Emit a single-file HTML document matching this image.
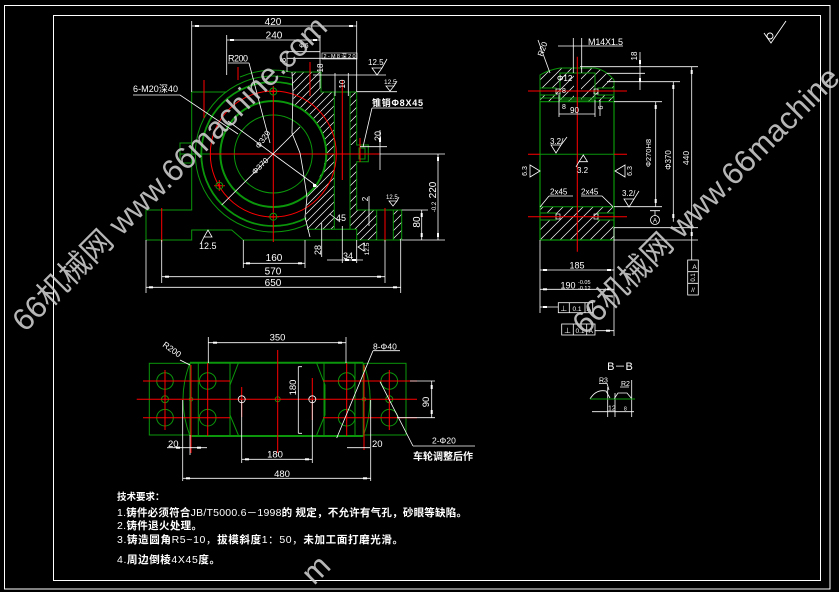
<!DOCTYPE html>
<html><head><meta charset="utf-8"><style>
html,body{margin:0;padding:0;background:#000;width:839px;height:592px;overflow:hidden;}
svg{display:block;overflow:hidden}
text{font-family:"Liberation Sans","Noto Sans CJK SC",sans-serif;fill:#fff}
</style></head><body>
<svg width="839" height="592" viewBox="0 0 839 592" xmlns="http://www.w3.org/2000/svg">
<defs>
<pattern id="h" patternUnits="userSpaceOnUse" width="8" height="8">
<path d="M0,8 L8,0 M-1,1 L1,-1 M7,9 L9,7" stroke="#fff" stroke-width="0.7"/>
</pattern>
<pattern id="h2" patternUnits="userSpaceOnUse" width="10" height="10">
<path d="M0,10 L10,0 M-1,1 L1,-1 M9,11 L11,9" stroke="#fff" stroke-width="0.7"/>
</pattern>
<clipPath id="cl"><rect x="0" y="0" width="334" height="600"/></clipPath>
<clipPath id="page"><rect x="0" y="0" width="839" height="592"/></clipPath>
</defs>
<rect width="839" height="592" fill="#000"/>

<!-- frames -->
<g fill="none" stroke="#fff" stroke-width="1">
<rect x="4.5" y="5.5" width="825.5" height="583.5"/>
<rect x="53.5" y="15.5" width="767" height="565"/>
</g>

<!-- ================= MAIN FRONT VIEW ================= -->
<g fill="none" stroke="#0b960b" stroke-width="1">
<g clip-path="url(#cl)">
<circle cx="273.3" cy="154" r="39"/>
<circle cx="273.3" cy="154" r="72" stroke-width="1.8"/>
<circle cx="273.3" cy="154" r="78"/>
<path d="M240,77 A84,84 0 0,1 300,74.4"/>
</g>
<path d="M146,240 L146,210 L191.7,210 L191.7,92 L226.7,92"/>
<path d="M146,240 L191.7,240 L191.7,230 L231.7,230 L243.3,240 L401.7,240"/>
<rect x="180" y="143" width="11.7" height="20"/>
<path d="M180,154 H210"/>
</g>

<!-- hatched sections -->
<g stroke="none">
<path d="M292,72 L321,72 L321,92 L334.3,92 L334.3,229.3 L307,229.3 L306,215 L308,192 A53,53 0 0,0 294,104.5 L293,93 Z" fill="#000"/>
<path d="M292,72 L321,72 L321,92 L334.3,92 L334.3,229.3 L307,229.3 L306,215 L308,192 A53,53 0 0,0 294,104.5 L293,93 Z" fill="url(#h)"/>
<rect x="334.3" y="92" width="15.7" height="137.3" fill="#000"/>
<rect x="350" y="92" width="6.7" height="53" fill="url(#h)"/>
<path d="M350,162 L356.7,162 L356.7,210 L376.7,210 L376.7,240 L356.7,240 L356.7,229.3 L350,229.3 Z" fill="url(#h)"/>
<rect x="393.3" y="210" width="8.4" height="30" fill="url(#h)"/>
</g>

<g fill="none" stroke="#0b960b" stroke-width="1">
<circle cx="273.3" cy="154" r="53" stroke-width="2"/>
<path d="M292,72 H321 V92 H356.7"/>
<path d="M334.3,92 V229.3"/>
<path d="M350,92 V229.3"/>
<path d="M356.7,92 V145 H368.3 V161.7 H356.7 V210 H401.7 V240"/>
<rect x="359" y="148" width="6" height="11"/>
<path d="M307,229.3 H356.7 V240"/>
<path d="M376.7,210 V240 M393.3,210 V240"/>
</g>

<!-- red lines main -->
<g fill="none" stroke="#ff0000" stroke-width="1">
<circle cx="273.3" cy="154" r="63"/>
<path d="M161.7,208 V242 M204,80 V118 M238,67 V80 M210,154 H380 M273.3,87 V242 M342.3,80 V180 M385,208 V242 M310,62 V96 M360,138 V162"/>
<path d="M268,91.5 H279 M273.3,86 V97 M268,216.7 H279 M214,185.7 H225 M219.3,180 V191"/>
</g>
<g fill="none" stroke="#0b960b" stroke-width="1">
<circle cx="273.3" cy="91.5" r="3.5"/>
<circle cx="273.3" cy="216.7" r="3.5"/>
<circle cx="219.3" cy="185.7" r="3.5"/>
</g>

<!-- white lines main -->
<g fill="none" stroke="#fff" stroke-width="0.8">
<path d="M191.7,21 V92 M356.7,21 V92 M191.7,26 H356.7"/>
<path d="M226.7,35 V75 M320,35 V88 M226.7,40 H320"/>
<path d="M287,51.7 H320 M287,58.3 H356.7 M287,51.7 V72"/>
<path d="M228,63 H249 M249,63 L270,143"/>
<path d="M133,95 H180 L238,134"/>
<path d="M228,121 L318,187"/>
<path d="M221.7,205 L300,127"/>
<path d="M292,72 L293,93 L292,133 L300,153 L303,170 L307,197 L305,217 L310,237"/>
<path d="M313,75 H386 M356.7,91.7 H397"/>
<path d="M335,73 V96 M348.3,73 V96"/>
<path d="M372,108 H423 M372,108 L363,147"/>
<path d="M360,146.7 H387 M380,130 V170"/>
<path d="M380,154 H445 M401.7,240 H445 M438,154 V240 M401.7,210 H428 M421.7,210 V240"/>
<path d="M369,196 V226"/>
<path d="M321.7,223 V257 M342.3,226 V263 M356.7,240 V263 M327,260 H363"/>
<path d="M243.3,240 V268 M305,240 V268 M243.3,263.3 H305"/>
<path d="M161.7,240 V283 M385,240 V283 M161.7,276.7 H385"/>
<path d="M146,240 V293 M400.7,240 V293 M146,287.3 H400.7"/>
<path d="M330,214 L340,222"/>
<path d="M372,68 H382 L377,75 Z M382,68 L387,59"/>
<path d="M386,86 H394 L390,91 Z M394,86 L397,81"/>
<path d="M204,237 H212 L208,230 Z M204,237 L201,243"/>
<path d="M389,201 H397 L393,206 Z M397,201 L399,197"/>
<path d="M364,243 V251 L358,247 Z"/>
</g>
<g fill="#fff">
<rect x="195" y="25" width="4" height="2"/><rect x="349" y="25" width="4" height="2"/>
<rect x="230" y="39" width="4" height="2"/><rect x="313" y="39" width="4" height="2"/>
<rect x="437" y="157" width="2" height="4"/><rect x="437" y="233" width="2" height="4"/>
<rect x="420.7" y="213" width="2" height="4"/><rect x="420.7" y="233" width="2" height="4"/>
<rect x="246" y="262.3" width="4" height="2"/><rect x="298" y="262.3" width="4" height="2"/>
<rect x="165" y="275.7" width="4" height="2"/><rect x="377" y="275.7" width="4" height="2"/>
<rect x="149" y="286.3" width="4" height="2"/><rect x="393" y="286.3" width="4" height="2"/>
<rect x="345" y="259" width="4" height="2"/><rect x="352" y="259" width="4" height="2"/>
<rect x="379" y="138" width="2" height="4"/>
<rect x="313" y="184" width="3" height="3"/>
</g>
<g font-size="10">
<text x="273" y="25" text-anchor="middle">420</text>
<text x="274" y="38.5" text-anchor="middle">240</text>
<text x="228" y="61.5" font-size="9" textLength="20">R200</text>
<text x="133" y="92" font-size="9" textLength="45">6-M20深40</text>
<text x="299" y="48" font-size="7">Φ6</text>
<rect x="322" y="53" width="35" height="6" fill="none" stroke="#fff" stroke-width="0.6"/>
<text x="323.5" y="58" font-size="5.5" textLength="32">2-M8深20</text>
<text transform="translate(286,60) rotate(-90)" text-anchor="middle" font-size="8">8</text>
<text transform="translate(323,68) rotate(-90)" text-anchor="middle" font-size="8">18</text>
<text x="368" y="65" font-size="8">12.5</text>
<text x="384" y="84" font-size="6.5">12.5</text>
<text transform="translate(345,84) rotate(-90)" text-anchor="middle" font-size="8">10</text>
<text x="372" y="106" font-size="9" font-weight="bold" textLength="51">锥销Φ8X45</text>
<text transform="translate(381,136) rotate(-90)" text-anchor="middle" font-size="9">20</text>
<text transform="translate(436,190) rotate(-90)" text-anchor="middle">220</text>
<text transform="translate(436,207) rotate(-90)" text-anchor="middle" font-size="6">-0.2</text>
<text transform="translate(420,222) rotate(-90)" text-anchor="middle">80</text>
<text transform="translate(368,199) rotate(-90)" text-anchor="middle" font-size="8">2</text>
<text x="386" y="199" font-size="6">12.5</text>
<text x="336" y="221" font-size="9">45</text>
<text transform="translate(321,250) rotate(-90)" text-anchor="middle" font-size="9">28</text>
<text x="343" y="259" font-size="9">34</text>
<text transform="translate(369,249) rotate(-90)" text-anchor="middle" font-size="6.5">12.5</text>
<text x="274" y="261" text-anchor="middle">160</text>
<text x="273" y="274.5" text-anchor="middle">570</text>
<text x="273" y="286" text-anchor="middle">650</text>
<text x="199" y="249" font-size="9">12.5</text>
<text transform="translate(262,168) rotate(-45)" text-anchor="middle" font-size="8">Φ370</text>
<text transform="translate(265,141) rotate(-55)" text-anchor="middle" font-size="8">Φ320</text>
</g>

<!-- ================= SIDE VIEW ================= -->
<g stroke="none">
<path d="M540,101.7 V75 Q548,70 560,68 H595 Q606,70 614,80 V101.7 Z" fill="url(#h2)"/>
<rect x="540" y="206.7" width="74" height="33.3" fill="url(#h2)"/>
<rect x="574" y="68" width="7" height="34" fill="#000"/>
<rect x="540" y="88" width="16" height="7" fill="#000"/>
<rect x="598" y="88" width="16" height="7" fill="#000"/>
<rect x="540" y="213" width="16" height="7" fill="#000"/>
<rect x="598" y="213" width="16" height="7" fill="#000"/>
</g>
<g fill="none" stroke="#0b960b" stroke-width="1">
<path d="M540,101.7 V75 Q548,70 560,68 H595 Q606,70 614,80 V101.7"/>
<path d="M540,101.7 V240 H614 V101.7 Z" stroke-width="1.2"/>
<path d="M540,154.3 H614 M540,206.7 H614 M540,98 H614"/>
<rect x="560" y="73" width="35" height="27"/>
<rect x="540" y="88" width="16" height="7"/><rect x="598" y="88" width="16" height="7"/>
<rect x="540" y="213" width="16" height="7"/><rect x="598" y="213" width="16" height="7"/>
</g>
<g fill="none" stroke="#fff" stroke-width="0.7">
<rect x="556" y="89" width="4" height="5"/><rect x="594" y="89" width="4" height="5"/>
<rect x="556" y="214" width="4" height="5"/><rect x="594" y="214" width="4" height="5"/>
</g>
<g fill="none" stroke="#ff0000" stroke-width="1">
<path d="M528,91 H627 M528,154.3 H540 M614,154.3 H627 M528,216.7 H627 M577.3,56.7 V251.7"/>
</g>
<g fill="none" stroke="#fff" stroke-width="0.8">
<path d="M558,46 H623 M573.3,38 V73 M581.7,38 V73"/>
<path d="M538,40 L550,73"/>
<path d="M580,66.7 H698 M607,73.3 H645 M607,81.7 H680 M640,52 V90"/>
<path d="M614,101.7 H662 M614,206.7 H662 M614,227.7 H698 M614,240 H698"/>
<path d="M655.7,101.7 V206.7 M673.3,81.7 V221.7 M691.7,66.7 V260"/>
<path d="M650,210.7 H660 M655,210.7 V215.5"/>
<circle cx="655" cy="220" r="4.5"/>
<rect x="687.7" y="260" width="10.6" height="35"/>
<path d="M687.7,271.7 H698.3 M687.7,283.3 H698.3"/>
<path d="M540,240 V313 M614,227.7 V336"/>
<path d="M540,270 H614 M540,289.3 H614 M540,307 H558.3 M595,330.7 H614"/>
<rect x="558.3" y="302.7" width="34.4" height="10"/>
<path d="M569.3,302.7 V312.7 M585,302.7 V312.7"/>
<rect x="561.7" y="324" width="33.3" height="11"/>
<path d="M573.3,324 V335 M586.7,324 V335"/>
<path d="M559,114 H595 M559,95 V117 M595,100 V117 M600,100 V116"/>
<path d="M549,196 H573 M549,196 L540,207 M581,196 H602 L613,206.7"/>
<path d="M551,145 H561 L556,153 Z M561,145 L567,137"/>
<path d="M583.3,155 L579,161.7 H587.5 Z M579,161.7 L576,167"/>
<path d="M624,199 H634 L629,207 Z M634,199 L639,191"/>
<path d="M530,165 V177 L540,171 Z"/>
<path d="M625,165 V177 L615,171 Z"/>
</g>
<g fill="#fff">
<rect x="639" y="60" width="2" height="4"/><rect x="639" y="78" width="2" height="4"/>
<rect x="654.7" y="105" width="2" height="4"/><rect x="654.7" y="199" width="2" height="4"/>
<rect x="672.3" y="85" width="2" height="4"/><rect x="672.3" y="214" width="2" height="4"/>
<rect x="690.7" y="70" width="2" height="4"/><rect x="690.7" y="232" width="2" height="4"/>
<rect x="543" y="269" width="4" height="2"/><rect x="607" y="269" width="4" height="2"/>
<rect x="543" y="288.3" width="4" height="2"/><rect x="607" y="288.3" width="4" height="2"/>
<rect x="543" y="306" width="4" height="2"/><rect x="606" y="329.7" width="4" height="2"/>
</g>
<g font-size="9">
<text x="588" y="45" textLength="35">M14X1.5</text>
<text transform="translate(545,50) rotate(-70)" text-anchor="middle" font-size="8">R20</text>
<text transform="translate(637,56) rotate(-90)" text-anchor="middle" font-size="8">18</text>
<text x="557" y="81" font-size="8">Φ12</text>
<text x="562" y="93" font-size="7">8</text>
<text x="562" y="109" font-size="7">8</text>
<text x="570" y="113" font-size="8">90</text>
<text transform="translate(603,107.5) rotate(-90)" text-anchor="middle" font-size="7">6</text>
<text transform="translate(651,153) rotate(-90)" text-anchor="middle" font-size="7.5">Φ270H8</text>
<text transform="translate(671,160) rotate(-90)" text-anchor="middle" font-size="8">Φ370</text>
<text transform="translate(689,158) rotate(-90)" text-anchor="middle" font-size="8.5">440</text>
<text x="694.5" y="269" font-size="6.5" text-anchor="middle">A</text>
<text transform="translate(695,277.5) rotate(-90)" text-anchor="middle" font-size="6">0.1</text>
<text x="693" y="292" font-size="6.5" text-anchor="middle">//</text>
<text x="577" y="268.5" text-anchor="middle">185</text>
<text x="568" y="288.5" text-anchor="middle">190</text>
<text x="578" y="284" font-size="5.5">-0.05</text>
<text x="578" y="290" font-size="5.5">-0.12</text>
<text x="563.8" y="311" font-size="7" text-anchor="middle">⊥</text>
<text x="577" y="311" font-size="6.5" text-anchor="middle">0.1</text>
<text x="588.8" y="311" font-size="6.5" text-anchor="middle">A</text>
<text x="567.5" y="333" font-size="7" text-anchor="middle">⊥</text>
<text x="580" y="333" font-size="6.5" text-anchor="middle">0.1</text>
<text x="590.8" y="333" font-size="6.5" text-anchor="middle">A</text>
<text x="655" y="222.5" font-size="6" text-anchor="middle">A</text>
<text x="550" y="144" font-size="8">3.2/</text>
<text x="577" y="173" font-size="8">3.2</text>
<text x="550" y="194.5" font-size="8">2x45</text>
<text x="581" y="194.5" font-size="8">2x45</text>
<text x="622" y="196" font-size="8">3.2/</text>
<text transform="translate(527,171) rotate(-90)" text-anchor="middle" font-size="7">6.3</text>
<text transform="translate(632,171) rotate(-90)" text-anchor="middle" font-size="7">6.3</text>
</g>

<!-- ================= PLAN VIEW ================= -->
<g fill="none" stroke="#0b960b" stroke-width="1">
<rect x="149.3" y="363.3" width="40.7" height="71.7"/>
<rect x="363.3" y="363.3" width="42.7" height="71.7"/>
<path d="M190,362.7 H363.3 M190,436 H363.3" stroke-width="2"/>
<path d="M190,363 V436 M198.3,363 V436 M230,363 V436 M324,363 V436 M355,363 V436 M363.3,363 V436"/>
<path d="M190,363 Q176,399 190,436 M363.3,363 Q377,399 363.3,436"/>
<path d="M238.3,363.3 L230,385 L230,415 L238.3,435 M316.7,363.3 L325,385 L325,415 L316.7,435"/>
<circle cx="165" cy="381" r="8.3"/><circle cx="165" cy="417.7" r="8.3"/>
<circle cx="207.7" cy="381" r="8.3"/><circle cx="207.7" cy="417.7" r="8.3"/>
<circle cx="346.7" cy="381" r="8.3"/><circle cx="346.7" cy="417.7" r="8.3"/>
<circle cx="389.3" cy="381" r="8.3"/><circle cx="389.3" cy="417.7" r="8.3"/>
<circle cx="165" cy="399.3" r="3.5"/><circle cx="389.3" cy="399.3" r="3.5"/>
<circle cx="191" cy="399.3" r="1.8"/><circle cx="364" cy="399.3" r="1.8"/>
<circle cx="277.7" cy="399.3" r="2.5"/>
</g>
<g fill="none" stroke="#ff0000" stroke-width="1">
<path d="M143,381 H230 M323,381 H417 M143,417.7 H230 M323,417.7 H417 M136.7,399.3 H417"/>
<path d="M165,370 V430 M191,365 V453 M207.7,363 V436 M277.7,350 V453 M241.7,387 V417 M312.3,378 V420 M346.7,363 V436 M364,365 V450 M389.3,370 V430"/>
</g>
<g fill="none" stroke="#fff" stroke-width="0.8">
<circle cx="241.7" cy="399.3" r="3.5"/><circle cx="312.3" cy="399.3" r="3.5"/>
<path d="M208.3,337 V363 M346,337 V363 M208.3,342.7 H346"/>
<path d="M298.3,366.7 V433.3 M298.3,366.7 H302 M298.3,433.3 H302"/>
<path d="M241.7,400 V463 M312.3,400 V463 M241.7,459.3 H312.3"/>
<path d="M182.7,400 V481 M370.7,400 V481 M182.7,478.3 H370.7"/>
<path d="M190,435 V455 M167,447.7 H207 M347,447.7 H370"/>
<path d="M410,381 H435 M397,417.7 H435 M431.7,381 V417.7"/>
<path d="M373,350.7 H400 M373,350.7 L336.7,438"/>
<path d="M413,446 H475 M413,446 L380,381.7"/>
<path d="M180,360 L190,365"/>
</g>
<g fill="#fff">
<rect x="213" y="341.7" width="4" height="2"/><rect x="338" y="341.7" width="4" height="2"/>
<rect x="245" y="458.3" width="4" height="2"/><rect x="305" y="458.3" width="4" height="2"/>
<rect x="186" y="477.3" width="4" height="2"/><rect x="363" y="477.3" width="4" height="2"/>
<rect x="176" y="446.7" width="4" height="2"/><rect x="197" y="446.7" width="4" height="2"/>
<rect x="430.7" y="385" width="2" height="4"/><rect x="430.7" y="410" width="2" height="4"/>
</g>
<g font-size="9.5">
<text x="277.5" y="340.5" text-anchor="middle">350</text>
<text transform="translate(296,387.5) rotate(-90)" text-anchor="middle">180</text>
<text x="275" y="457.5" text-anchor="middle">180</text>
<text x="282" y="477" text-anchor="middle">480</text>
<text x="168" y="447">20</text>
<text x="372" y="447">20</text>
<text transform="translate(429,402) rotate(-90)" text-anchor="middle">90</text>
<text transform="translate(162,346) rotate(35)" font-size="8.5">R200</text>
<text x="373" y="349.5" font-size="8.5">8-Φ40</text>
<text x="432" y="443.5" font-size="8.5">2-Φ20</text>
<text x="413" y="460" font-size="10" font-weight="bold" textLength="60">车轮调整后作</text>
</g>

<!-- ================= B-B ================= -->
<text x="620" y="370" font-size="11" text-anchor="middle">B－B</text>
<g fill="none" stroke="#fff" stroke-width="0.8">
<path d="M590,399 Q596,389 606,391 L610,398 M614,399 L618,393 H627 L632,399 L635,399"/>
<path d="M607.7,387 V417 M615,393 V417 M631.7,380 V417 M592,411.7 H634"/>
<path d="M599,383.5 H607 L609,390 M620,387 H629"/>
</g>
<path d="M590,399 H635" stroke="#0b960b" stroke-width="1"/>
<text x="599" y="382.5" font-size="7">R3</text>
<text x="621" y="386" font-size="7">R2</text>
<text x="608" y="410.5" font-size="7">12</text>
<text x="624" y="410.5" font-size="5">8</text>

<!-- top right roughness -->
<g fill="none" stroke="#fff" stroke-width="0.9">
<path d="M764,33 L771,43 L786,21"/>
<circle cx="770" cy="36" r="3"/>
</g>

<!-- ================= TECH TEXT ================= -->
<g font-size="10.5">
<text x="117" y="500" font-weight="bold" font-size="9.5">技术要求：</text>
<text x="117" y="516" textLength="350">1.<tspan font-weight="bold">铸件必须符合</tspan>JB/T5000.6－1998<tspan font-weight="bold">的 规定，不允许有气孔，砂眼等缺陷。</tspan></text>
<text x="117" y="529" textLength="85">2.<tspan font-weight="bold">铸件退火处理。</tspan></text>
<text x="117" y="543" textLength="286">3.<tspan font-weight="bold">铸造圆角</tspan>R5~10，<tspan font-weight="bold">拔模斜度</tspan>1：50，<tspan font-weight="bold">未加工面打磨光滑。</tspan></text>
<text x="117" y="563" textLength="103">4.<tspan font-weight="bold">周边倒棱</tspan>4X45<tspan font-weight="bold">度。</tspan></text>
</g>

<!-- ================= WATERMARKS ================= -->
<g font-size="31" fill-opacity="0.88">
<text transform="translate(25,333) rotate(-45)" textLength="430" style="fill:#cfcfcf">66机械网 www.66machine.com</text>
<text transform="translate(585,336) rotate(-45)" textLength="430" style="fill:#cfcfcf">66机械网 www.66machine.com</text>
<text transform="translate(314,586) rotate(-45)" style="fill:#cfcfcf">m</text>
</g>
</svg>
</body></html>
